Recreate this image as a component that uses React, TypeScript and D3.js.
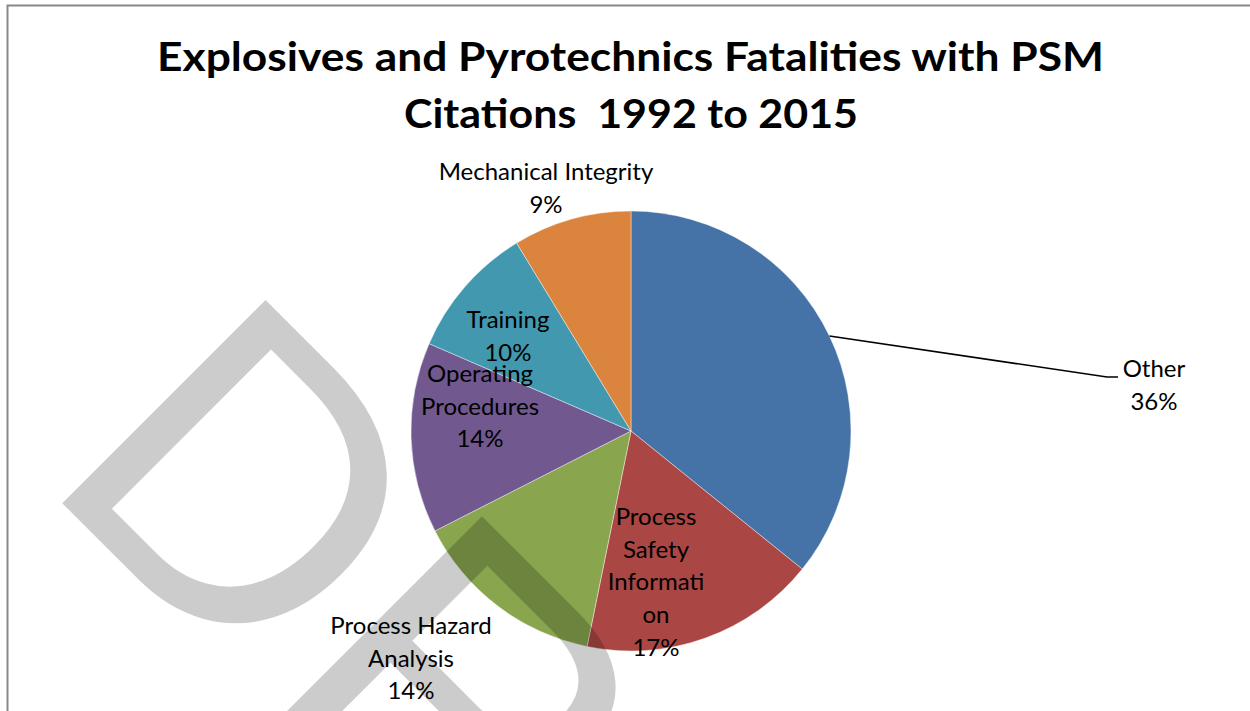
import React from "react";
import * as d3 from "d3";

const categories = [
  "Other",
  "Process Safety Information",
  "Process Hazard Analysis",
  "Operating Procedures",
  "Training",
  "Mechanical Integrity",
];
const values = [35.8, 17.4, 14.3, 14.0, 9.8, 8.7];
const labelLines = [
  ["Other"],
  ["Process", "Safety", "Informati", "on"],
  ["Process Hazard", "Analysis"],
  ["Operating", "Procedures"],
  ["Training"],
  ["Mechanical Integrity"],
];
const colors = ["#4572A7", "#AA4643", "#89A54E", "#71588F", "#4198AF", "#DB843D"];
const titleLines = ["Explosives and Pyrotechnics Fatalities with PSM", "Citations  1992 to 2015"];
const watermarkText = "DRAFT";

// layout (not data)
const W = 1250;
const H = 711;
const cx = 631;
const cy = 431;
const R = 220;
const lineStep = 32.7;
const labelPos = [
  { x: 1154, y: 377 },
  { x: 656, y: 525 },
  { x: 411, y: 634 },
  { x: 480, y: 382 },
  { x: 508, y: 328 },
  { x: 546, y: 180 },
];
const titleLayout = [
  { x: 630.5, y: 71, len: 947 },
  { x: 631, y: 128, len: 454 },
];

export default function App() {
  const total = d3.sum(values);
  const pie = d3.pie<number>().sort(null).value((d) => d);
  const arcs = pie(values);
  const arcGen = d3.arc<d3.PieArcDatum<number>>().innerRadius(0).outerRadius(R);
  const pct = values.map((v) => Math.round((v / total) * 100) + "%");

  // leader line for "Other" from the middle of its arc
  const a0 = arcs[0];
  const leaderAngle = (a0.startAngle + a0.endAngle) / 2;
  const lx0 = cx + R * Math.sin(leaderAngle);
  const ly0 = cy - R * Math.cos(leaderAngle);

  return (
    <svg
      width={W}
      height={H}
      style={{ position: "absolute", left: 0, top: 0, background: "#fff" }}
    >
      <rect x={0} y={0} width={W} height={H} fill="#fff" />
      <path d={`M7.5,${H + 5} L7.5,5.5 L${W + 5},5.5`} fill="none" stroke="#888" strokeWidth={2} />

      {titleLines.map((t, i) => (
        <text
          key={i}
          x={titleLayout[i].x}
          y={titleLayout[i].y}
          textAnchor="middle"
          fontFamily="Lato, 'Open Sans', sans-serif"
          fontWeight="bold"
          fontSize={40}
          textLength={titleLayout[i].len}
          lengthAdjust="spacingAndGlyphs"
          style={{ whiteSpace: "pre" }}
          fill="#000"
        >
          {t}
        </text>
      ))}

      <g transform={`translate(${cx},${cy})`}>
        {arcs.map((a, i) => (
          <path key={i} d={arcGen(a) || ""} fill={colors[i]} stroke="#fff" strokeOpacity={0.6} strokeWidth={0.7} />
        ))}
      </g>

      <polyline
        points={`${lx0},${ly0} 1107,377 1118,377`}
        fill="none"
        stroke="#000"
        strokeWidth={1.5}
      />

      {labelLines.map((lines, i) => {
        const all = [...lines, pct[i]];
        return (
          <text
            key={i}
            textAnchor="middle"
            fontFamily="Lato, 'Open Sans', sans-serif"
            fontSize={24}
            fill="#000"
          >
            {all.map((l, j) => (
              <tspan key={j} x={labelPos[i].x} y={labelPos[i].y + j * lineStep}>
                {l}
              </tspan>
            ))}
          </text>
        );
      })}

      <text
        transform="translate(38,479) rotate(45)"
        x={0}
        y={0}
        fontFamily="'Liberation Sans', Arial, sans-serif"
        fontSize={418}
        letterSpacing={4}
        fill="#000"
        fillOpacity={0.2}
      >
        {watermarkText}
      </text>
    </svg>
  );
}
